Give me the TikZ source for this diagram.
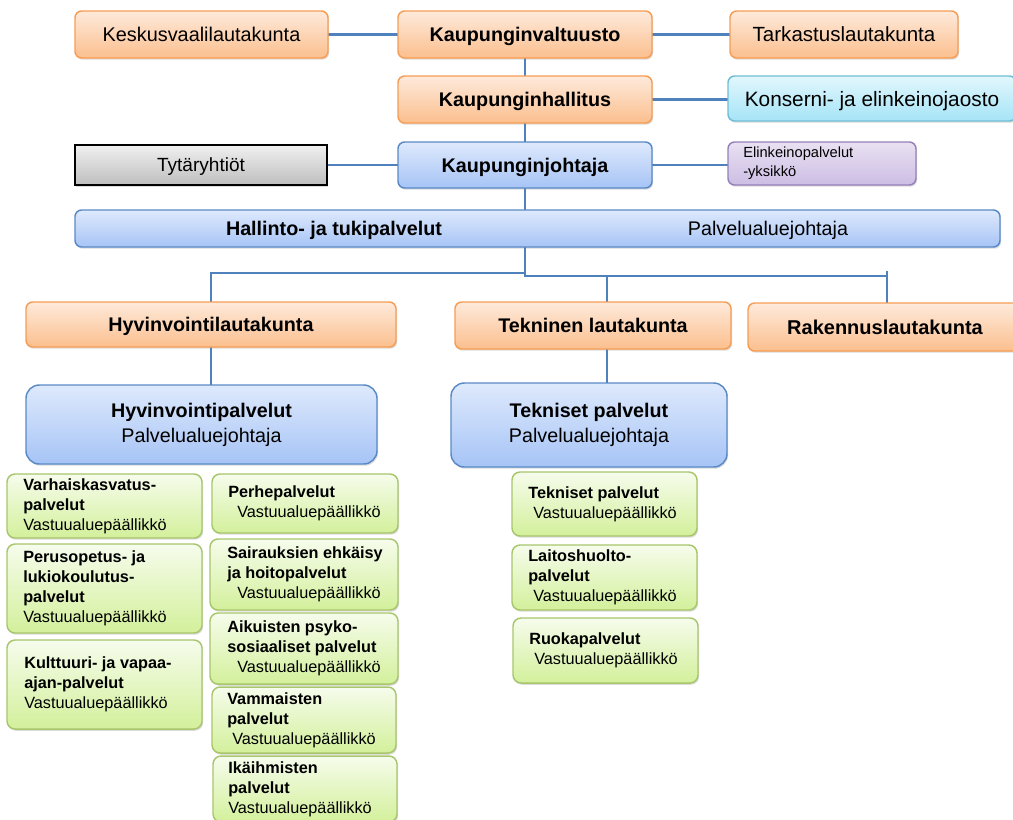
\documentclass[tikz,border=0pt]{standalone}
\usepackage{fontspec}
\setmainfont{Liberation Sans}
\usetikzlibrary{shadows}
\pgfdeclarelayer{bg}
\pgfsetlayers{bg,main}
\definecolor{lineblue}{RGB}{79,129,189}
\definecolor{orTop}{RGB}{254,234,219}
\definecolor{orBot}{RGB}{251,191,142}
\definecolor{orBorder}{RGB}{247,157,84}
\definecolor{blTop}{RGB}{222,233,252}
\definecolor{blBot}{RGB}{166,196,246}
\definecolor{blBorder}{RGB}{90,138,198}
\definecolor{grTop}{RGB}{246,252,236}
\definecolor{grBot}{RGB}{211,240,155}
\definecolor{grBorder}{RGB}{168,198,108}
\definecolor{cyTop}{RGB}{226,247,253}
\definecolor{cyBot}{RGB}{165,228,247}
\definecolor{cyBorder}{RGB}{112,190,214}
\definecolor{puTop}{RGB}{233,225,242}
\definecolor{puBot}{RGB}{204,189,228}
\definecolor{puBorder}{RGB}{150,128,184}
\definecolor{gyTop}{RGB}{240,240,240}
\definecolor{gyBot}{RGB}{190,190,190}
\tikzset{
  base/.style={rectangle, inner sep=0pt, outer sep=0pt, line width=1.1pt,
    drop shadow={shadow xshift=0.8pt, shadow yshift=-1.3pt, opacity=0.28}},
  orb/.style={base, rounded corners=5pt, draw=orBorder, top color=orTop, bottom color=orBot,
    text depth=0pt, font=\fontsize{14.8}{17}\selectfont\bfseries},
  orr/.style={orb, font=\fontsize{14.9}{17}\selectfont},
  blueb/.style={base, rounded corners=5pt, draw=blBorder, top color=blTop, bottom color=blBot,
    text depth=0pt, font=\fontsize{14.8}{17}\selectfont\bfseries},
  bluebar/.style={base, rounded corners=5pt, draw=blBorder, top color=blTop, bottom color=blBot},
  bigblue/.style={base, rounded corners=10pt, draw=blBorder, top color=blTop, bottom color=blBot,
    align=center, font=\fontsize{14.8}{18.75}\selectfont},
  cyanbox/.style={base, rounded corners=5pt, draw=cyBorder, top color=cyTop, bottom color=cyBot,
    text depth=0pt, font=\fontsize{15.6}{18}\selectfont},
  purplebox/.style={base, rounded corners=5pt, draw=puBorder, top color=puTop, bottom color=puBot},
  graybox/.style={base, draw=black, top color=gyTop, bottom color=gyBot,
    text depth=0pt, font=\fontsize{14.3}{17}\selectfont},
  greenbox/.style={base, rounded corners=6pt, draw=grBorder, top color=grTop, bottom color=grBot},
  gtext/.style={inner sep=0pt, align=left, font=\fontsize{12.2}{15}\selectfont},
  elinktext/.style={inner sep=0pt, align=left, font=\fontsize{11}{14.25}\selectfont},
  bartext/.style={inner sep=0pt, text depth=0pt, font=\fontsize{14.8}{17}\selectfont},
  conn/.style={draw=lineblue, line width=2.1pt}
}
\newcommand\mkbox[7]{%
  \node[#1, minimum width={(#5-#3)*0.75pt}, minimum height={(#6-#4)*0.75pt}]
    (#2) at ({(#3+#5)/2},{(#4+#6)/2}) {#7};}
\newcommand\gbox[7]{%
  \mkbox{greenbox}{#1}{#2}{#3}{#4}{#5}{}%
  \node[gtext, anchor=west] (#1-t) at (#6,{(#3+#5)/2}) {#7};}
\newcommand\ind[1]{\hspace*{#1}}
\begin{document}
\begin{tikzpicture}[x=0.75pt,y=-0.75pt]
\useasboundingbox (0,0) rectangle (1013,819);
\clip (0,0) rectangle (1013,819);
% top level
\mkbox{orb}{kv}{398}{11}{652}{58}{Kaupunginvaltuusto}
\mkbox{orr}{kesk}{75}{11}{328}{58}{Keskusvaalilautakunta}
\mkbox{orr, font=\fontsize{15.4}{18}\selectfont}{tark}{730}{11}{958}{58}{Tarkastuslautakunta}
\mkbox{orb}{kh}{398}{76}{652}{123}{Kaupunginhallitus}
\mkbox{cyanbox}{kons}{728}{76}{1016}{121}{Konserni- ja elinkeinojaosto}
\mkbox{blueb}{kj}{398}{142}{652}{188}{Kaupunginjohtaja}
\mkbox{graybox}{tyt}{75}{145}{327}{185}{Tytäryhtiöt}
\mkbox{purplebox}{elink}{728}{142}{916}{185}{}
\node[elinktext, anchor=west] (elink-t) at (743,163.5) {Elinkeinopalvelut\\-yksikkö};
\mkbox{bluebar}{hall}{75}{210}{1000}{247}{}
\node[bartext, font=\fontsize{14.8}{17}\selectfont\bfseries] (hall-a) at (334,228.5) {Hallinto- ja tukipalvelut};
\node[bartext] (hall-b) at (768,228.5) {Palvelualuejohtaja};
% boards
\mkbox{orb}{hyvl}{26}{302}{396}{347}{Hyvinvointilautakunta}
\mkbox{orb}{tekl}{455}{302}{731}{349}{Tekninen lautakunta}
\mkbox{orb, font=\fontsize{15}{18}\selectfont\bfseries}{rak}{748}{303}{1022}{351}{Rakennuslautakunta}
\mkbox{bigblue}{hyvp}{26}{385}{377}{464}{\textbf{Hyvinvointipalvelut}\\Palvelualuejohtaja}
\mkbox{bigblue}{tekp}{451}{383}{727}{467}{\textbf{Tekniset palvelut}\\Palvelualuejohtaja}
% green units, left column
\gbox{vark}{7}{474}{202}{538}{23}{\textbf{Varhaiskasvatus-}\\\textbf{palvelut}\\Vastuualuepäällikkö}
\gbox{peru}{7}{544}{202}{633}{23}{\textbf{Perusopetus- ja}\\\textbf{lukiokoulutus-}\\\textbf{palvelut}\\Vastuualuepäällikkö}
\gbox{kult}{7}{640}{202}{729}{24}{\textbf{Kulttuuri- ja vapaa-}\\\textbf{ajan-palvelut}\\Vastuualuepäällikkö}
% green units, right column
\gbox{perhe}{212}{474}{398}{533}{228}{\textbf{Perhepalvelut}\\\ind{6.75pt}Vastuualuepäällikkö}
\gbox{sair}{210}{539}{398}{610}{227}{\textbf{Sairauksien ehkäisy}\\\textbf{ja hoitopalvelut}\\\ind{7.5pt}Vastuualuepäällikkö}
\gbox{aik}{210}{613}{398}{684}{227}{\textbf{Aikuisten psyko-}\\\textbf{sosiaaliset palvelut}\\\ind{7.5pt}Vastuualuepäällikkö}
\gbox{vamm}{212}{687}{396}{753}{227}{\textbf{Vammaisten}\\\textbf{palvelut}\\\ind{3.75pt}Vastuualuepäällikkö}
\gbox{ikai}{213}{756}{397}{822}{228}{\textbf{Ikäihmisten}\\\textbf{palvelut}\\Vastuualuepäällikkö}
% green units, technical
\gbox{tekg}{512}{472}{697}{536}{528}{\textbf{Tekniset palvelut}\\\ind{3.75pt}Vastuualuepäällikkö}
\gbox{lait}{512}{545}{697}{610}{528}{\textbf{Laitoshuolto-}\\\textbf{palvelut}\\\ind{3.75pt}Vastuualuepäällikkö}
\gbox{ruok}{513}{618}{698}{683}{529}{\textbf{Ruokapalvelut}\\\ind{3.75pt}Vastuualuepäällikkö}
% connectors
\begin{pgfonlayer}{bg}
\coordinate (jl) at (525,273);
\coordinate (jr) at (525,276);
\coordinate (rk) at (887,276);
\coordinate (rkt) at (887,271);
\coordinate (tk) at (607,276);
\draw[conn] (kesk.east) -- (kesk.east -| kv.west);
\draw[conn] (kv.east) -- (kv.east -| tark.west);
\draw[conn] (kv.south) -- (kh.north);
\draw[conn] (kh.east) -- (kh.east -| kons.west);
\draw[conn] (kh.south) -- (kj.north);
\draw[conn] (tyt.east) -- (tyt.east -| kj.west);
\draw[conn] (kj.east) -- (kj.east -| elink.west);
\draw[conn] (kj.south) -- (jr) -- (rk);
\draw[conn] (jl) -| (hyvl.north);
\draw[conn] (rkt) -- (rkt |- rak.north);
\draw[conn] (tk) -- (tk |- tekl.north);
\draw[conn] (hyvl.south) -- (hyvl.south |- hyvp.north);
\draw[conn] (tk |- tekl.south) -- (tk |- tekp.north);
\end{pgfonlayer}
\end{tikzpicture}
\end{document}
